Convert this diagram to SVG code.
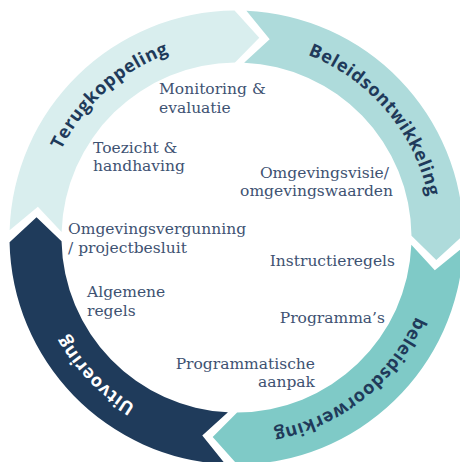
<svg xmlns="http://www.w3.org/2000/svg" width="460" height="462" viewBox="0 0 460 462">
  <defs>
    <!-- clockwise guide circle for the ring labels, starting at the left -->
    <path id="labelArc" d="M 40.5,237.5 A 196 196 0 1 1 432.5,237.5 A 196 196 0 1 1 40.5,237.5" fill="none"/>
    <style>
      .ring-label { font-family: "Open Sans", "DejaVu Sans", sans-serif; font-weight: 700; font-size: 18px; letter-spacing: 0.6px; fill: #1f3a5a; }
      .ring-label.light { fill: #ffffff; }
      .item { font-family: "DejaVu Serif", "Liberation Serif", serif; font-size: 15.5px; fill: #3e5272; }
    </style>
  </defs>

  <rect width="460" height="462" fill="#ffffff"/>

  <!-- ring segments: each one is an arrow pointing clockwise -->
  <g id="terugkoppeling">
    <path fill="#d9eeee" d="M 9.61,230.37 A 227 227 0 0 1 234.52,10.51 L 259.25,37.79 L 234.97,62.51 A 175 175 0 0 0 61.59,232.00 L 37.87,206.75 Z"/>
    <text class="ring-label"><textPath href="#labelArc" startOffset="13.4%" text-anchor="middle">Terugkoppeling</textPath></text>
  </g>

  <g id="beleidsontwikkeling">
    <path fill="#aedbdb" d="M 246.40,10.72 A 227 227 0 0 1 463.49,235.12 L 436.25,259.91 L 411.49,235.67 A 175 175 0 0 0 244.13,62.67 L 269.68,39.26 Z"/>
    <text class="ring-label"><textPath href="#labelArc" startOffset="38.8%" text-anchor="middle">Beleidsontwikkeling</textPath></text>
  </g>

  <g id="beleidsdoorwerking">
    <path fill="#7fcac7" d="M 463.30,247.01 A 227 227 0 0 1 237.29,464.50 L 212.70,437.09 L 237.11,412.50 A 175 175 0 0 0 411.35,244.83 L 434.80,270.33 Z"/>
    <text class="ring-label"><textPath href="#labelArc" startOffset="64.3%" text-anchor="middle">beleidsdoorwerking</textPath></text>
  </g>

  <g id="uitvoering">
    <path fill="#1f3b5b" d="M 225.41,464.23 A 227 227 0 0 1 9.55,242.25 L 36.53,217.19 L 61.54,241.16 A 175 175 0 0 0 227.95,412.29 L 202.29,435.57 Z"/>
    <text class="ring-label light"><textPath href="#labelArc" startOffset="87.7%" text-anchor="middle">Uitvoering</textPath></text>
  </g>

  <!-- instruments inside the ring -->
  <g id="monitoring">
    <text class="item" x="159" y="94">Monitoring &amp;</text>
    <text class="item" x="159" y="113">evaluatie</text>
  </g>
  <g id="toezicht">
    <text class="item" x="93" y="153">Toezicht &amp;</text>
    <text class="item" x="93" y="171">handhaving</text>
  </g>
  <g id="omgevingsvisie">
    <text class="item" x="389" y="178" text-anchor="end">Omgevingsvisie/</text>
    <text class="item" x="393" y="196" text-anchor="end">omgevingswaarden</text>
  </g>
  <g id="omgevingsvergunning">
    <text class="item" x="68" y="233.5">Omgevingsvergunning</text>
    <text class="item" x="68" y="252.5">/ projectbesluit</text>
  </g>
  <g id="instructieregels">
    <text class="item" x="395" y="266" text-anchor="end">Instructieregels</text>
  </g>
  <g id="algemene-regels">
    <text class="item" x="87" y="297">Algemene</text>
    <text class="item" x="87" y="316">regels</text>
  </g>
  <g id="programmas">
    <text class="item" x="385" y="322.5" text-anchor="end">Programma’s</text>
  </g>
  <g id="programmatische-aanpak">
    <text class="item" x="315" y="369" text-anchor="end">Programmatische</text>
    <text class="item" x="315" y="387" text-anchor="end">aanpak</text>
  </g>

  <!-- the arrows above are the only connectors; kept as a group for structure -->
  <g id="connectors"/>
</svg>
